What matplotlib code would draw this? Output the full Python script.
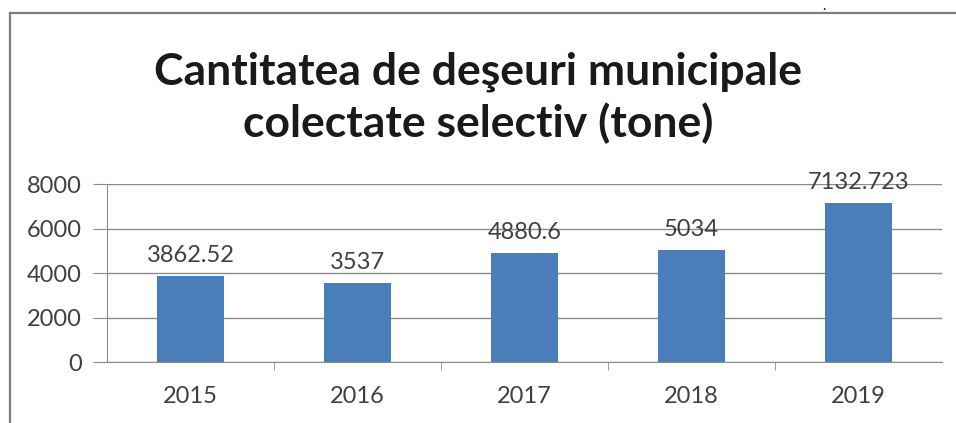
import matplotlib.pyplot as plt
from matplotlib.lines import Line2D

plt.rcParams['font.family'] = ['Lato', 'DejaVu Sans']

# ========== 數據 ==========
years = ['2015', '2016', '2017', '2018', '2019']
values = [3862.52, 3537, 4880.6, 5034, 7132.723]
value_labels = ['3862.52', '3537', '4880.6', '5034', '7132.723']
y_ticks = [0, 2000, 4000, 6000, 8000]

bar_color = '#4A7EBB'
text_color = '#404040'
grid_color = '#8C8C8C'

fig = plt.figure(figsize=(9.56, 4.23), dpi=100)
ax = fig.add_axes([0.112, 0.144, 0.873, 0.421])

x = list(range(len(years)))
ax.bar(x, values, width=0.4, color=bar_color, zorder=3)

for xi, v, lab in zip(x, values, value_labels):
    ax.text(xi, v + 450, lab, ha='center', va='bottom', fontsize=17,
            color=text_color, zorder=4)

ax.set_xlim(-0.5, len(years) - 0.5)
ax.set_ylim(0, 8000)
ax.set_yticks(y_ticks)
ax.set_yticklabels([str(t) for t in y_ticks], fontsize=17, color=text_color)
ax.set_xticks(x)
ax.set_xticklabels(years, fontsize=17, color=text_color)
ax.tick_params(axis='x', length=0, pad=17)
ax.tick_params(axis='y', length=10, color=grid_color, pad=8)
ax.set_xticks([i + 0.5 for i in range(len(years) - 1)], minor=True)
ax.tick_params(axis='x', which='minor', length=6, color=grid_color)

ax.grid(axis='y', color=grid_color, linewidth=1, zorder=0)
for s in ['top', 'right']:
    ax.spines[s].set_visible(False)
ax.spines['left'].set_color(grid_color)
ax.spines['bottom'].set_color(grid_color)

fig.text(0.5, 0.768, 'Cantitatea de deşeuri municipale\ncolectate selectiv (tone)',
         ha='center', va='center', fontsize=32, fontweight='bold',
         color='#1A1A1A', linespacing=1.3)

# 外框
fig.add_artist(Line2D([0.0105, 1.0], [0.969, 0.969], transform=fig.transFigure,
                      color='#7F7F7F', linewidth=1.6))
fig.add_artist(Line2D([0.0105, 0.0105], [0.0, 0.969], transform=fig.transFigure,
                      color='#7F7F7F', linewidth=1.6))
fig.text(0.862, 0.985, '.', ha='center', va='center', fontsize=10, color='black')

plt.savefig('out.png', dpi=100)
